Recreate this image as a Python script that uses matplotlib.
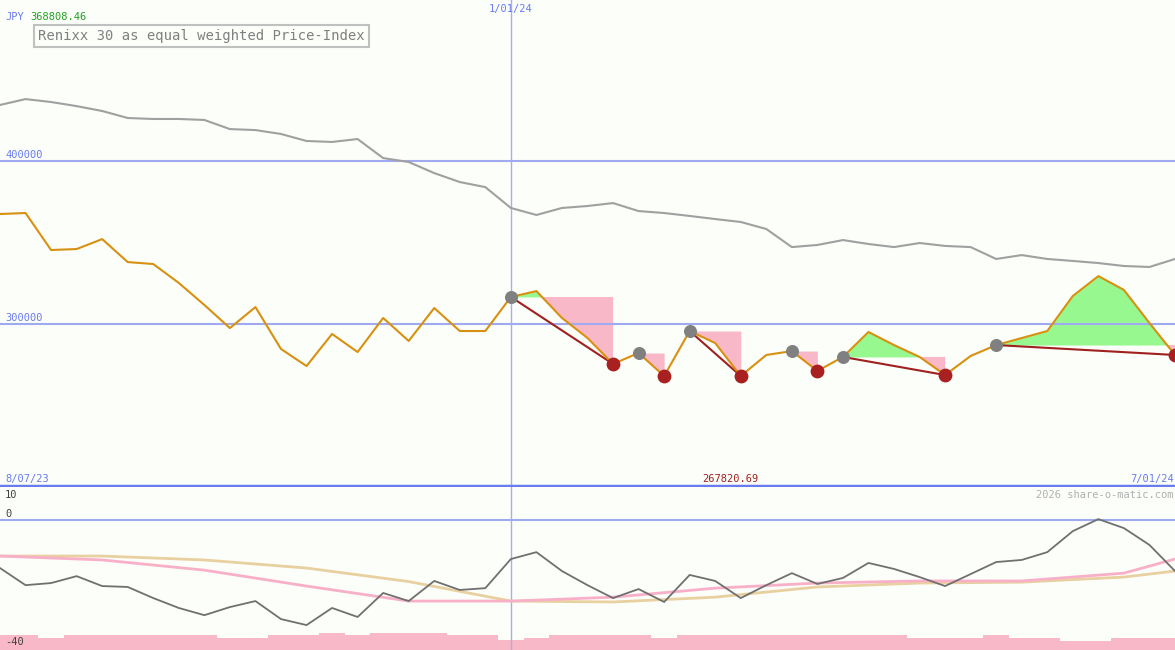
import numpy as np
import matplotlib.pyplot as plt

# weekly closes, in thousands JPY
price = [367.5, 368.1, 345.4, 346.0, 352.1, 338.0, 336.8, 325.2, 311.7, 297.5,
         310.4, 284.7, 274.2, 293.9, 282.8, 303.7, 289.6, 309.8, 295.7, 295.7,
         316.6, 320.2, 303.7, 291.4, 275.5, 282.2, 268.1, 295.7, 288.3, 268.1,
         281.0, 283.4, 271.2, 279.8, 295.1, 287.1, 279.8, 268.7, 280.4, 287.1,
         291.4, 295.7, 317.2, 329.4, 320.9, 300.6, 281.0]
avg_line = [434.4, 438.0, 436.2, 433.7, 430.7, 426.4, 425.8, 425.8, 425.2, 419.6,
            419.0, 416.6, 412.3, 411.7, 413.5, 401.8, 399.4, 392.6, 387.1, 384.0,
            371.2, 366.9, 371.2, 372.4, 374.2, 369.3, 368.1, 366.3, 364.4, 362.6,
            358.3, 347.2, 348.5, 351.5, 349.1, 347.2, 349.7, 347.9, 347.2, 339.9,
            342.3, 339.9, 338.7, 337.4, 335.6, 335.0, 339.9]
# swing patterns: (start week, end week)
swings = [(20, 24), (25, 26), (27, 29), (31, 32), (33, 37), (39, 46)]
highs = [20, 25, 27, 31, 33, 39]
lows = [24, 26, 29, 32, 37, 46]

osc = [-16.0, -21.7, -21.0, -18.7, -22.0, -22.3, -26.0, -29.3, -31.7, -29.0,
       -27.0, -33.0, -35.0, -29.3, -32.3, -24.3, -27.0, -20.3, -23.3, -22.7,
       -13.0, -10.7, -17.0, -21.7, -26.0, -23.0, -27.3, -18.3, -20.3, -26.0,
       -21.7, -17.7, -21.3, -19.3, -14.3, -16.3, -19.0, -22.0, -18.0, -14.0,
       -13.3, -10.7, -3.7, 0.3, -2.7, -8.3, -17.0]
smooth_wk = [0, 4, 8, 12, 16, 20, 24, 28, 32, 36, 40, 44, 46]
osc_pink = [-12, -13.3, -16.7, -22, -27, -27, -25.7, -22.7, -21, -20.3, -20.3, -17.7, -13]
osc_tan = [-12, -12, -13.3, -16, -20.5, -27, -27.3, -25.7, -22.3, -21, -20.7, -19, -17]
vol = [-38.3, -38.3, -39.3, -38.3, -38.3, -38.3, -38.3, -38.3, -38.3, -39.3,
       -39.3, -38.3, -38.3, -37.7, -38.3, -37.7, -37.7, -37.7, -38.3, -38.3,
       -40.0, -39.3, -38.3, -38.3, -38.3, -38.3, -39.3, -38.3, -38.3, -38.3,
       -38.3, -38.3, -38.3, -38.3, -38.3, -38.3, -39.3, -39.3, -39.3, -38.3,
       -39.3, -39.3, -40.3, -40.3, -39.3, -39.3, -39.3]

x = np.arange(len(price))
p = np.array(price)
bg = '#fcfefa'
blue = '#6a7bf0'
mono = 'DejaVu Sans Mono'

fig = plt.figure(figsize=(11.75, 6.5), dpi=100, facecolor=bg)
ax = fig.add_axes([0, 163 / 650, 1, 487 / 650], facecolor=bg)
ax2 = fig.add_axes([0, 0, 1, 163 / 650], facecolor=bg)
xmax = len(price) - 1
for a in (ax, ax2):
    a.set_xlim(0, xmax)
    a.axis('off')
    a.axvline(20, color='#a8b0e0', lw=1)
ax.set_ylim(200, 498.8)
ax2.set_ylim(-43.3, 11)

for lv in (400, 300):
    ax.axhline(lv, color='#a0aaf0', lw=1.5)
    ax.text(0.2, lv + 2, '%d000' % lv, color=blue, fontsize=7.5, family=mono)
ax.axhline(200.5, color=blue, lw=2.5)

ax.plot(x, avg_line, color='#a0a0a0', lw=1.5)
for s, e in swings:
    xs = x[s:e + 1]
    seg = p[s:e + 1]
    lvl = p[s]
    ax.fill_between(xs, seg, lvl, where=seg >= lvl, interpolate=True, color='#98f890', lw=0)
    ax.fill_between(xs, seg, lvl, where=seg <= lvl, interpolate=True, color='#f8b8c8', lw=0)
for h, l in [(20, 24), (27, 29), (33, 37), (39, 46)]:
    ax.plot([h, l], [p[h], p[l]], color='#a02020', lw=1.5)
ax.plot(x, p, color='#d89010', lw=1.5)
ax.scatter(highs, p[highs], s=70, color='#808080', zorder=5)
ax.scatter(lows, p[lows], s=80, color='#a82020', zorder=5)

ax.text(0.2, 486.5, 'JPY', color=blue, fontsize=7.5, family=mono)
ax.text(1.2, 486.5, '368808.46', color='#20a020', fontsize=7.5, family=mono)
ax.text(1.5, 476.7, 'Renixx 30 as equal weighted Price-Index', color='#808080',
        fontsize=10, family=mono, va='center',
        bbox=dict(boxstyle='square,pad=0.3', fc=bg, ec='#c0c0c0', lw=1.5))
ax.text(20, 491.5, '1/01/24', color=blue, fontsize=7.5, family=mono, ha='center')
ax.text(0.2, 203, '8/07/23', color=blue, fontsize=7.5, family=mono)
ax.text(28.6, 203, '267820.69', color='#a02020', fontsize=7.5, family=mono, ha='center')
ax.text(xmax - 0.05, 203, '7/01/24', color=blue, fontsize=7.5, family=mono, ha='right')

ax2.axhline(0, color='#a0aaf0', lw=1.5)
ax2.bar(x, np.array(vol) + 43.3, bottom=-43.3, width=1.0, color='#f8b8c8', lw=0)
ax2.plot(smooth_wk, osc_tan, color='#e8d0a0', lw=2)
ax2.plot(smooth_wk, osc_pink, color='#f8b0c8', lw=2)
ax2.plot(x, osc, color='#707070', lw=1.3)
ax2.text(0.2, 7.5, '10', color='#404040', fontsize=7.5, family=mono)
ax2.text(0.2, 1, '0', color='#404040', fontsize=7.5, family=mono)
ax2.text(0.2, -41.5, '-40', color='#404040', fontsize=7.5, family=mono)
ax2.text(xmax - 0.05, 7.5, '2026 share-o-matic.com', color='#b0b0b0', fontsize=7.5,
         family=mono, ha='right')

fig.savefig('out.png', dpi=100, facecolor=bg)
